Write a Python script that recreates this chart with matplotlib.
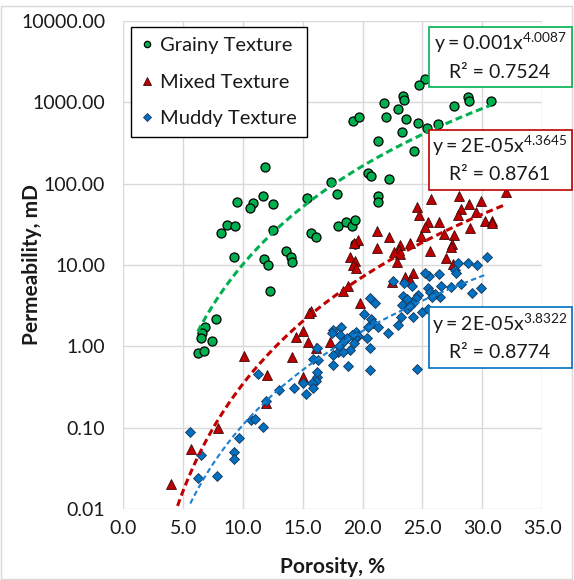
import numpy as np
import matplotlib
matplotlib.use('Agg')
from matplotlib import pyplot as plt
from matplotlib.patches import Rectangle
from matplotlib.ticker import NullLocator

plt.rcParams['font.family'] = ['Lato', 'DejaVu Sans']
plt.rcParams['mathtext.fontset'] = 'custom'
plt.rcParams['mathtext.rm'] = 'Lato'

W, H = 574, 580

# core measurements: porosity (%) and permeability (mD) per texture class
grainy_porosity = [25.19, 24.74, 23.38, 23.46, 21.82, 22.94, 30.74, 28.84, 28.92, 27.64,
                   19.23, 19.73, 21.93, 23.63, 24.63, 25.36, 26.32, 23.27, 21.32, 24.33,
                   20.43, 20.68, 22.24, 17.36, 17.86, 21.33, 21.33, 11.84, 11.65, 9.53,
                   10.82, 10.61, 12.49, 15.37, 8.13, 8.64, 9.30, 12.49, 15.67, 16.08,
                   17.95, 18.59, 19.09, 19.37, 19.37, 9.28, 11.76, 12.10, 13.64, 14.02,
                   14.10, 12.30, 7.75, 6.83, 6.62, 6.50, 7.40, 6.22, 6.75]
grainy_perm = [1909, 1625, 1191, 1062, 968, 824, 1047, 1157, 1047, 885,
               587, 663, 652, 626, 550, 482, 543, 434, 333, 253,
               136, 123, 115, 106, 73.8, 70.3, 58.9, 158, 70.3, 58.9,
               58.2, 50.6, 56.1, 65.6, 24.7, 31.4, 30.1, 26.9, 24.9, 21.8,
               30.5, 34.0, 30.1, 35.7, 18.1, 12.7, 11.9, 9.91, 15.0, 12.4,
               10.8, 4.80, 2.18, 1.75, 1.46, 1.28, 1.17, 0.824, 0.879]

mixed_porosity = [31.97, 25.72, 28.06, 28.90, 29.86, 24.53, 24.69, 28.23, 28.02, 29.46,
                  30.26, 30.80, 30.82, 25.43, 26.36, 28.98, 25.26, 21.18, 22.24, 26.81,
                  27.62, 27.45, 27.37, 19.64, 19.31, 23.97, 23.13, 23.07, 22.67, 23.13,
                  22.92, 21.23, 25.64, 26.97, 24.86, 18.99, 19.41, 19.16, 19.49,
                  27.59, 24.19, 23.51, 23.97, 22.46, 18.78, 18.39, 19.76,
                  15.69, 15.55, 15.05, 14.44, 15.46, 16.11, 17.28, 10.11, 14.14, 12.01,
                  15.00, 11.95, 7.94, 5.68, 3.96]
mixed_perm = [78.8, 64.7, 69.4, 56.1, 60.3, 52.0, 41.7, 48.3, 41.7, 44.2,
              34.7, 34.7, 32.8, 33.3, 33.7, 28.2, 29.7, 26.2, 22.3, 24.2,
              23.2, 18.3, 16.6, 20.1, 18.5, 18.6, 17.4, 15.3, 14.5, 13.8,
              11.0, 16.0, 15.0, 12.2, 22.9, 12.4, 11.2, 9.86, 9.19,
              10.3, 8.05, 7.13, 6.55, 6.24, 5.60, 4.86, 3.44,
              2.76, 2.57, 1.55, 1.32, 1.13, 0.957, 1.13, 0.764, 0.751, 0.446,
              0.418, 0.200, 0.100, 0.0547, 0.0203]

muddy_porosity = [30.43, 29.54, 28.81, 27.94, 27.69, 27.81, 29.86, 29.12, 28.23, 27.39,
                  26.56, 26.47, 26.41, 25.58, 25.22, 25.45, 25.64, 26.06, 25.83, 24.66,
                  24.44, 24.24, 24.94, 24.11, 23.46, 23.36, 23.69, 23.27, 23.69, 23.97,
                  24.19, 23.19, 22.99, 22.52, 20.62, 21.04, 20.12, 20.68, 20.90, 21.32,
                  22.15, 20.48, 20.40, 20.62, 20.66, 24.58, 19.45, 19.64, 19.37, 19.09,
                  19.28, 18.20, 17.55, 17.42, 18.11, 18.67, 18.39, 18.95, 17.97, 16.17,
                  16.30, 17.55, 17.55, 18.82, 25.47, 18.39, 18.06, 15.88, 16.17, 16.11,
                  15.75, 15.88, 15.00, 15.25, 14.29, 13.03, 11.30, 11.89, 10.67, 11.01,
                  11.64, 9.67, 9.28, 9.25, 7.87, 6.27, 6.50, 5.60, 16.17]
muddy_perm = [12.4, 9.86, 10.7, 10.5, 8.68, 7.91, 5.15, 4.50, 5.80, 5.37,
              5.52, 4.10, 7.76, 7.33, 8.05, 5.18, 4.70, 4.35, 4.01, 4.28,
              3.90, 3.39, 2.67, 5.52, 5.96, 4.16, 3.79, 3.23, 2.86, 3.14,
              2.28, 2.28, 1.83, 6.36, 3.97, 3.39, 2.50, 2.15, 1.96, 1.75,
              1.47, 1.75, 1.26, 0.948, 0.507, 0.528, 1.52, 1.34, 1.26, 1.38,
              1.11, 1.75, 1.59, 1.45, 1.38, 1.26, 1.14, 0.903, 0.861, 0.948,
              0.681, 0.785, 0.591, 0.575, 2.88, 0.861, 1.01, 0.692, 0.425, 0.377,
              0.352, 0.306, 0.352, 0.258, 0.306, 0.292, 0.462, 0.212, 0.125, 0.130,
              0.103, 0.0745, 0.0509, 0.0411, 0.0259, 0.0244, 0.0458, 0.0889, 0.490]

series_names = ['Grainy Texture', 'Mixed Texture', 'Muddy Texture']

# power-law trend y = a * x^b
trend_coef = [0.001, 1.5e-05, 1.6e-05]
trend_exp = [4.0087, 4.3645, 3.8322]
trend_r2 = ['0.7524', '0.8761', '0.8774']
trend_eq = [r'$\mathregular{y = 0.001x^{4.0087}}$',
            r'$\mathregular{y = 2E\text{-}05x^{4.3645}}$',
            r'$\mathregular{y = 2E\text{-}05x^{3.8322}}$']

x_ticks = [0, 5, 10, 15, 20, 25, 30, 35]
y_ticks = [0.01, 0.1, 1, 10, 100, 1000, 10000]

GREEN = '#00b050'
RED = '#c00000'
BLUE = '#0070c0'
TEXT = '#1a1a1a'


def fx(px):
    return px / W


def fy(py):
    return 1 - py / H


fig = plt.figure(figsize=(W / 100, H / 100), dpi=100)
fig.add_artist(Rectangle((fx(0.5), fy(578.5)), fx(571.5) - fx(0.5), (578.5 - 5.5) / H,
                         transform=fig.transFigure, fill=False, edgecolor='#d9d9d9', lw=1.0))

ax = fig.add_axes([fx(123.3), fy(509.3), (542 - 123.3) / W, (509.3 - 20.7) / H])
ax.set_yscale('log')
ax.set_xlim(0, 35)
ax.set_ylim(0.01, 10000)
ax.set_xticks(x_ticks)
ax.set_xticklabels([f'{v:.1f}' for v in x_ticks])
ax.set_yticks(y_ticks)
ax.set_yticklabels([f'{v:.2f}' for v in y_ticks])
ax.yaxis.set_minor_locator(NullLocator())
ax.grid(True, color='#d9d9d9', lw=1.0)
ax.set_axisbelow(True)
for s in ax.spines.values():
    s.set_visible(False)
ax.tick_params(length=0, labelsize=14, colors=TEXT)
ax.tick_params(axis='y', pad=13)
ax.tick_params(axis='x', pad=8)
ax.set_xlabel('Porosity, %', fontsize=15, fontweight='bold', labelpad=14, color=TEXT)
ax.set_ylabel('Permeability, mD', fontsize=15, fontweight='bold', color=TEXT)
ax.yaxis.set_label_coords((42 - 123.3) / 418.7, 0.5)

ax.plot(grainy_porosity, grainy_perm, 'o', ms=6.5, mfc=GREEN, mec='black', mew=0.9,
        label=series_names[0], zorder=3)
ax.plot(mixed_porosity, mixed_perm, '^', ms=7.5, mfc=RED, mec='#3b0a0a', mew=0.6,
        label=series_names[1], zorder=3)
ax.plot(muddy_porosity, muddy_perm, 'D', ms=5.5, mfc=BLUE, mec='#1c3557', mew=0.6,
        label=series_names[2], zorder=3)

trend_style = [(GREEN, 2.2, (2.3, 1.3)), (RED, 2.2, (2.3, 1.3)), ('#1a7fd0', 1.5, (2.6, 1.6))]
for phi, a, b, (color, lw, dash) in zip([grainy_porosity, mixed_porosity, muddy_porosity],
                                        trend_coef, trend_exp, trend_style):
    xs = np.linspace(min(phi), max(phi), 300)
    ax.plot(xs, a * xs ** b, color=color, lw=lw, ls=(0, dash), zorder=4)

leg = ax.legend(loc='upper left', bbox_to_anchor=(fx(130.7), fy(27.3)),
                bbox_transform=fig.transFigure, borderaxespad=0, fancybox=False,
                edgecolor='black', framealpha=1, fontsize=14.5, markerscale=0.7,
                handlelength=0.6, handletextpad=0.35, labelspacing=0.95, borderpad=0.5)
leg.get_frame().set_linewidth(1.0)
for t in leg.get_texts():
    t.set_color(TEXT)

# equation boxes on the right
eq_boxes = [(GREEN, 26.7, 87.3), (RED, 130, 190), (BLUE, 307.3, 368.3)]
for (color, top, bottom), eq, r2 in zip(eq_boxes, trend_eq, trend_r2):
    fig.add_artist(Rectangle((fx(428.5), fy(bottom)), fx(572) - fx(428.5), (bottom - top) / H,
                             transform=fig.transFigure, facecolor='white', edgecolor=color,
                             lw=1.2, zorder=5))
    mid = (top + bottom) / 2
    fig.text(fx(500), fy(mid - 14), eq, ha='center', va='center', fontsize=14,
             color=TEXT, zorder=6)
    fig.text(fx(500), fy(mid + 15), f'R² = {r2}', ha='center', va='center', fontsize=14,
             color=TEXT, zorder=6)

fig.savefig('out.png', dpi=100)
